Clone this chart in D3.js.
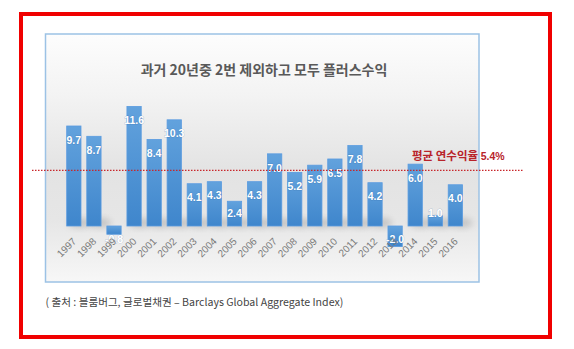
<!DOCTYPE html>
<html><head><meta charset="utf-8">
<script src="https://cdn.jsdelivr.net/npm/d3@7"></script>
<style>
html,body{margin:0;padding:0;background:#fff;}
svg{display:block;}
</style></head>
<body>
<script>
const years = ["1997","1998","1999","2000","2001","2002","2003","2004","2005","2006","2007","2008","2009","2010","2011","2012","2013","2014","2015","2016"];
const returns = [9.7,8.7,-0.8,11.6,8.4,10.3,4.1,4.3,2.4,4.3,7.0,5.2,5.9,6.5,7.8,4.2,-2.0,6.0,1.0,4.0];
const average = 5.4;
const titleText = "과거 20년중 2번 제외하고 모두 플러스수익";
const avgLabel = "평균 연수익율 ";
const avgValueLabel = "5.4%";
const sourceText = "( 출처 : 블룸버그, 글로벌채권 – Barclays Global Aggregate Index)";

const W = 574, H = 349;
const svg = d3.select("body").append("svg").attr("width", W).attr("height", H);
const defs = svg.append("defs");

const bg = defs.append("linearGradient").attr("id","bg").attr("x1",0).attr("y1",0).attr("x2",0).attr("y2",1);
[[0,"#fdfdfd"],[0.25,"#f3f3f3"],[0.55,"#e3e3e3"],[0.75,"#e6e6e6"],[1,"#f7f7f7"]].forEach(s=>bg.append("stop").attr("offset",s[0]).attr("stop-color",s[1]));
const bar = defs.append("linearGradient").attr("id","bar").attr("x1",0).attr("y1",0).attr("x2",0).attr("y2",1);
[[0,"#62a2dd"],[1,"#3f86cc"]].forEach(s=>bar.append("stop").attr("offset",s[0]).attr("stop-color",s[1]));
const blur = defs.append("filter").attr("id","blur").attr("x","-50%").attr("y","-50%").attr("width","200%").attr("height","200%");
blur.append("feGaussianBlur").attr("stdDeviation",3);

// outer red frame
svg.append("rect").attr("x",21).attr("y",14).attr("width",529).attr("height",323)
  .attr("fill","#fff").attr("stroke","#f00000").attr("stroke-width",4);

// chart panel
const px0 = 45.5, py0 = 34, px1 = 479, py1 = 282;
svg.append("rect").attr("x",px0).attr("y",py0).attr("width",px1-px0).attr("height",py1-py0)
  .attr("fill","url(#bg)").attr("stroke","#9cc2e5").attr("stroke-width",1.5);

svg.append("text").attr("x",264).attr("y",75).attr("text-anchor","middle")
  .attr("font-family","'Noto Sans CJK KR'").attr("font-size",14).attr("font-weight",700)
  .attr("fill","#595959").text(titleText);

const x = d3.scaleBand().domain(years).range([63.8, 465.4]).paddingInner(0.288).paddingOuter(0.144);
const y = d3.scaleLinear().domain([0, 9.7]).range([226, 126]);

// soft shadows
svg.append("g").selectAll("ellipse").data(years.filter((d,i)=>returns[i]>0)).join("ellipse")
  .attr("cx", d=>x(d)+x.bandwidth()*0.9).attr("cy", y(0)-3)
  .attr("rx", x.bandwidth()*0.8).attr("ry", 5)
  .attr("fill","#9a9a9a").attr("opacity",0.45).attr("filter","url(#blur)");

svg.append("g").selectAll("rect").data(years).join("rect")
  .attr("x", d=>x(d)).attr("width", x.bandwidth())
  .attr("y", (d,i)=>y(Math.max(0,returns[i])))
  .attr("height", (d,i)=>Math.abs(y(returns[i])-y(0)))
  .attr("fill","url(#bar)").attr("stroke","#5a9be0").attr("stroke-width",0.8);

// value labels
svg.append("g").selectAll("text").data(years).join("text")
  .attr("x", d=>x(d)+x.bandwidth()/2)
  .attr("y", (d,i)=>{
    const v = returns[i];
    if (v >= 0) return Math.min(y(v)+14, y(0)-13);
    return Math.max(y(v)-14, y(0)+13);
  })
  .attr("dy","0.35em").attr("text-anchor","middle")
  .attr("font-family","'Liberation Sans', Arial, sans-serif").attr("font-size",10.5).attr("font-weight",700)
  .attr("fill","#ffffff").style("paint-order","stroke").attr("stroke","rgba(40,90,150,0.25)").attr("stroke-width",1)
  .text((d,i)=>returns[i].toFixed(1));

// x axis labels
const xAxis = d3.axisBottom(x).tickSize(0).tickPadding(0);
const gx = svg.append("g").attr("transform",`translate(0,${y(0)})`).call(xAxis);
gx.select(".domain").remove();
gx.selectAll(".tick text")
  .attr("font-family","'Liberation Sans', Arial, sans-serif").attr("font-size",10).attr("fill","#7a7a7a")
  .attr("text-anchor","end").attr("dy",0).attr("y",0)
  .attr("transform","translate(3,16) rotate(-45)");

// average line
svg.append("line").attr("x1",32).attr("x2",523).attr("y1",y(average)).attr("y2",y(average))
  .attr("stroke","#c8262b").attr("stroke-width",1.3).attr("stroke-dasharray","1.5,1.5");
const at = svg.append("text").attr("x",412).attr("y",160)
  .attr("font-family","'Noto Sans CJK KR'").attr("font-weight",700).attr("fill","#b8232a");
at.append("tspan").attr("font-size",11.5).text(avgLabel);
at.append("tspan").attr("font-size",10.5).attr("font-family","'Liberation Sans', Arial, sans-serif").text(avgValueLabel);

svg.append("text").attr("x",45.5).attr("y",306)
  .attr("font-family","'Noto Sans CJK KR'").attr("font-size",10.6).attr("fill","#444")
  .text(sourceText);
</script>
</body></html>
